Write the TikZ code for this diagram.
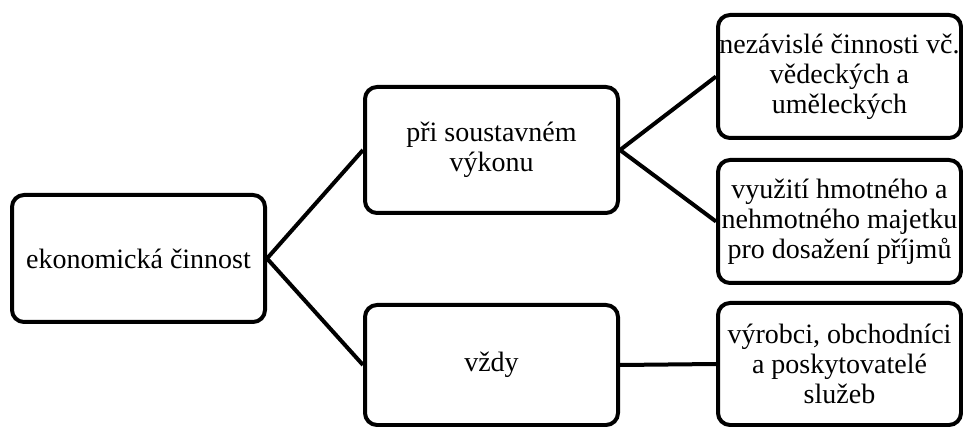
\documentclass[tikz,border=0pt]{standalone}
\usepackage{fontspec}
\setmainfont{Liberation Serif}
\begin{document}
\begin{tikzpicture}[x=1pt,y=-1pt,
  box/.style={draw=black, line width=4pt, rounded corners=12pt, fill=white,
    align=center, inner sep=0pt, font=\rmfamily\fontsize{28}{30}\selectfont},
  link/.style={draw=black, line width=4pt}]
\useasboundingbox (0,0) rectangle (963,427);
\clip (0,0) rectangle (963,427);
\node[box, minimum width=253pt, minimum height=127pt] (a) at (138.5,258.5) {ekonomická činnost};
\node[box, minimum width=253pt, minimum height=126pt] (b) at (491.5,150) {při soustavném\\výkonu};
\node[box, minimum width=253pt, minimum height=120pt] (c) at (491.5,365) {vždy};
\node[box, minimum width=243pt, minimum height=123pt] (r1) at (839.5,76.5) {nezávislé činnosti vč.\\vědeckých a\\uměleckých};
\node[box, minimum width=243pt, minimum height=123pt] (r2) at (839.5,221.5) {využití hmotného a\\nehmotného majetku\\pro dosažení příjmů};
\node[box, minimum width=243pt, minimum height=122pt] (r3) at (839.5,364) {výrobci, obchodníci\\a poskytovatelé\\služeb};
\draw[link] (a.east) -- (b.west);
\draw[link] (a.east) -- (c.west);
\draw[link] (b.east) -- (r1.west);
\draw[link] (b.east) -- (r2.west);
\draw[link] (c.east) -- (r3.west);
\end{tikzpicture}
\end{document}
